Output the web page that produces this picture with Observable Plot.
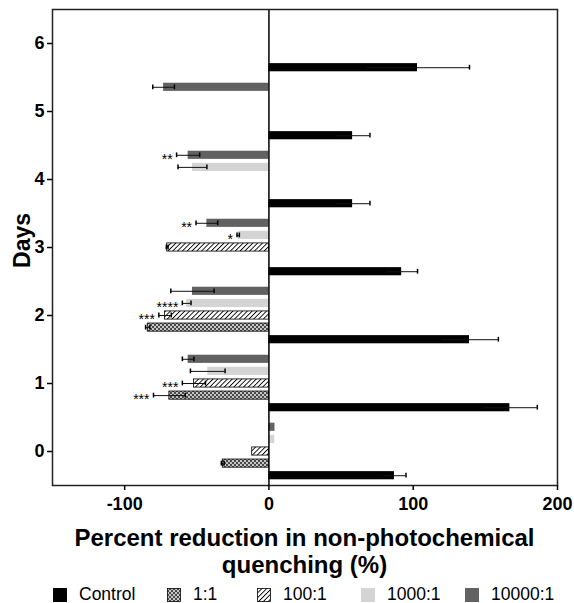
<!DOCTYPE html>
<html>
<head>
<meta charset="utf-8">
<script src="https://cdn.jsdelivr.net/npm/d3@7"></script>
<script src="https://cdn.jsdelivr.net/npm/@observablehq/plot@0.6"></script>
<style>
  body { margin: 0; background: #fff; font-family: "Liberation Sans", Arial, Helvetica, sans-serif; }
  #wrap { position: relative; width: 574px; height: 603px; background: #fff; }
  #chart svg { display: block; }
  #chart [aria-label$="tick label"] text { font-weight: bold; }
  .xtitle { position: absolute; left: 52px; width: 505px; top: 524px; text-align: center;
            font-size: 24px; font-weight: bold; line-height: 27px; color: #000; }
  .leg { position: absolute; top: 584px; height: 20px; font-size: 17.5px; color: #000; white-space: nowrap; }
  .leg svg { position: absolute; left: 0; top: 4px; }
  .leg span { position: absolute; left: 26px; top: 0; line-height: 20px; }
</style>
</head>
<body>
<svg width="0" height="0" style="position:absolute">
  <defs>
    <pattern id="checker" width="4" height="4" patternUnits="userSpaceOnUse">
      <rect width="4" height="4" fill="#4a4a4a"></rect>
      <rect x="0" y="0" width="2" height="2" fill="#c4c4c4"></rect>
      <rect x="2" y="2" width="2" height="2" fill="#c4c4c4"></rect>
    </pattern>
    <pattern id="hatch" width="3.4" height="3.4" patternUnits="userSpaceOnUse" patternTransform="rotate(45)">
      <rect width="3.4" height="3.4" fill="#fff"></rect>
      <line x1="0" y1="0" x2="0" y2="3.4" stroke="#000" stroke-width="1.8"></line>
    </pattern>
  </defs>
</svg>
<div id="wrap">
  <div id="chart"></div>
  <div class="xtitle">Percent reduction in non-photochemical<br>quenching (%)</div>
  <div id="legend"></div>
</div>
<script>
// Days after treatment and the five treatment groups
const days = [0, 1, 2, 3, 4, 5, 6];
const treatments = ["Control", "1:1", "100:1", "1000:1", "10000:1"];

// Mean percent reduction in NPQ per day (null = not measured)
const controlMean = [87, 167, 139, 92, 58, 58, 103];
const controlSd   = [8, 19, 20, 11, 12, 12, 36];
const r1Mean      = [-32, -69, -84, null, null, null, null];
const r1Sd        = [1, 11, 1.5, null, null, null, null];
const r100Mean    = [-11.6, -52, -72, -70.5, null, null, null];
const r100Sd      = [0, 8, 4.3, 0.6, null, null, null];
const r1000Mean   = [4, -42.4, -57, -21.3, -53, null, null];
const r1000Sd     = [0, 12, 3, 0.8, 10, null, null];
const r10000Mean  = [4.2, -56, -53, -43, -56, -73, null];
const r10000Sd    = [0, 4, 15, 7.5, 8, 7.5, null];

// Significance marks versus control
const r1Stars     = ["", "***", "", "", "", "", ""];
const r100Stars   = ["", "***", "***", "", "", "", ""];
const r1000Stars  = ["", "", "****", "*", "", "", ""];
const r10000Stars = ["", "", "", "**", "**", "", ""];

const xTicks = [-100, 0, 100, 200];

// Drawing styles per treatment
const styles = {
  "Control": {fill: "#000", stroke: "none"},
  "1:1":     {fill: "url(#checker)", stroke: "#000"},
  "100:1":   {fill: "url(#hatch)", stroke: "#000"},
  "1000:1":  {fill: "#d4d4d4", stroke: "none"},
  "10000:1": {fill: "#626262", stroke: "none"}
};

const series = [
  [controlMean, controlSd, null],
  [r1Mean, r1Sd, r1Stars],
  [r100Mean, r100Sd, r100Stars],
  [r1000Mean, r1000Sd, r1000Stars],
  [r10000Mean, r10000Sd, r10000Stars]
];

// Bars within a day are stacked vertically around the day value
const step = 0.178, half = 0.06, cap = 0.035;
const rows = [];
treatments.forEach((t, i) => {
  const [m, s, st] = series[i];
  days.forEach((d, j) => {
    if (m[j] == null) return;
    rows.push({treatment: t, day: d, pos: d + (i - 2) * step, value: m[j], sd: s[j], stars: st ? st[j] : ""});
  });
});

const marks = [];
treatments.forEach(t => {
  const data = rows.filter(r => r.treatment === t);
  marks.push(Plot.rect(data, {
    x1: () => 0, x2: "value",
    y1: r => r.pos - half, y2: r => r.pos + half,
    fill: styles[t].fill, stroke: styles[t].stroke, strokeWidth: 0.8
  }));
});
const withErr = rows.filter(r => r.sd > 0);
marks.push(
  Plot.ruleY(withErr, {y: "pos", x1: r => r.value - r.sd, x2: r => r.value + r.sd, stroke: "#111", strokeWidth: 1}),
  Plot.ruleX(withErr, {x: r => r.value - r.sd, y1: r => r.pos - cap, y2: r => r.pos + cap, stroke: "#000", strokeWidth: 1.5}),
  Plot.ruleX(withErr, {x: r => r.value + r.sd, y1: r => r.pos - cap, y2: r => r.pos + cap, stroke: "#000", strokeWidth: 1.5}),
  Plot.text(rows.filter(r => r.stars), {
    x: r => r.value - r.sd, y: "pos", text: "stars",
    textAnchor: "end", dx: -4, dy: 4, fontSize: 14, fill: "#000"
  }),
  Plot.ruleX([0], {stroke: "#000", strokeWidth: 1.5}),
  Plot.frame({stroke: "#222", strokeWidth: 1.5}),
  Plot.axisY({ticks: days, tickFormat: d => String(d), tickSize: 5, tickPadding: 3, fontSize: 18, label: null, strokeWidth: 1.5}),
  Plot.axisX({ticks: xTicks, tickFormat: d => String(d), tickSize: 5, tickPadding: 7, fontSize: 18, label: null, strokeWidth: 1.5}),
  Plot.text(["Days"], {frameAnchor: "left", textAnchor: "middle", dx: -30, dy: -7, rotate: -90, fontSize: 23, fontWeight: "bold", fill: "#000"})
);

const chart = Plot.plot({
  width: 574,
  height: 520,
  marginLeft: 52,
  marginRight: 17,
  marginTop: 9,
  marginBottom: 35,
  style: {fontFamily: "'Liberation Sans', Arial, Helvetica, sans-serif", color: "#000", background: "#fff"},
  x: {domain: [-150, 200]},
  y: {domain: [-0.5, 6.5]},
  marks
});
document.getElementById("chart").appendChild(chart);

// Legend below the chart
const legendLeft = [53, 167, 257, 361, 465];
const legend = document.getElementById("legend");
treatments.forEach((t, i) => {
  const item = document.createElement("div");
  item.className = "leg";
  item.style.left = legendLeft[i] + "px";
  const sw = styles[t].stroke !== "none"
    ? `<rect x="0.5" y="0.5" width="13" height="13" fill="${styles[t].fill}" stroke="#000" stroke-width="0.8"></rect>`
    : `<rect x="0" y="0" width="14" height="14" fill="${styles[t].fill}"></rect>`;
  item.innerHTML = `<svg width="14" height="14">${sw}</svg><span>${t}</span>`;
  legend.appendChild(item);
});
</script>
</body>
</html>
